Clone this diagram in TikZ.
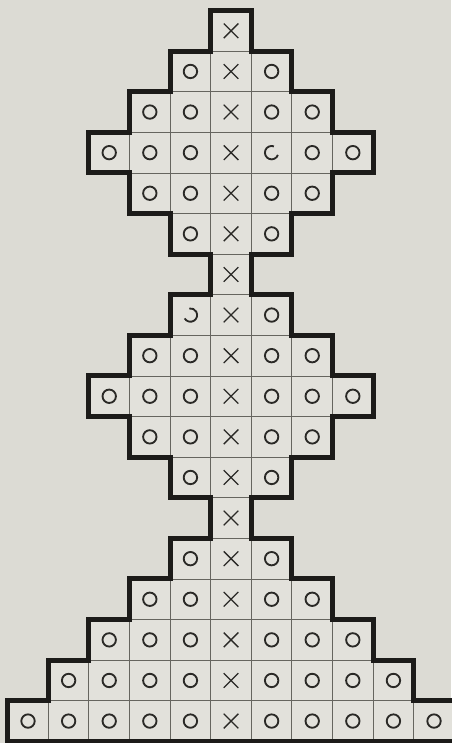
\documentclass[tikz,border=0pt]{standalone}
\usepackage{xcolor}
\usepackage{tikz}

\begin{document}
\begin{tikzpicture}[x=1cm,y=1cm]

% Colori
\definecolor{colFondo}{HTML}{DCDBD4}
\definecolor{colCella}{HTML}{E2E1DB}
\definecolor{colGriglia}{HTML}{66655F}
\definecolor{colSegno}{HTML}{2A2926}
\definecolor{colBordo}{HTML}{1C1B19}

% Raggio del cerchio e semilato della croce
\def\rc{0.165}
\def\sx{0.18}

% Fondo e margini
\useasboundingbox (-0.19,-0.04) rectangle (10.92,18.26);
\fill[colFondo] (-0.19,-0.04) rectangle (10.92,18.26);

% Celle: \k = mezza larghezza della riga, \j = riga dal basso
\foreach \k [count=\j from 0] in {5,4,3,2,1,0,1,2,3,2,1,0,1,2,3,2,1,0} {
  \foreach \i in {-\k,...,\k} {
    \draw[fill=colCella, draw=colGriglia, line width=0.6pt] (5+\i,\j) rectangle (6+\i,\j+1);
    \pgfmathtruncatemacro\id{100*\j+\i}
    \ifnum\i=0
      % croce nella colonna centrale
      \draw[colSegno, line width=0.9pt]
        (5.5-\sx,\j+0.5-\sx) -- (5.5+\sx,\j+0.5+\sx)
        (5.5-\sx,\j+0.5+\sx) -- (5.5+\sx,\j+0.5-\sx);
    \else\ifnum\id=1401
      % cerchio aperto (difetto di stampa)
      \draw[colSegno, line width=1.3pt] (5.5+\i,\j+0.5) ++(70:\rc) arc[start angle=70,end angle=340,radius=\rc];
    \else\ifnum\id=999
      \draw[colSegno, line width=1.3pt] (5.5+\i,\j+0.5) ++(-150:\rc) arc[start angle=-150,end angle=100,radius=\rc];
    \else
      \draw[colSegno, line width=1.3pt] (5.5+\i,\j+0.5) circle (\rc);
    \fi\fi\fi
  }
}

% Contorno spesso a gradini
\draw[colBordo, line width=3.5pt, line join=miter] (0,0)
  \foreach \k [count=\j from 0] in {5,4,3,2,1,0,1,2,3,2,1,0,1,2,3,2,1,0} { -- (5-\k,\j) -- (5-\k,\j+1) }
  \foreach \k [count=\j from 0] in {0,1,2,3,2,1,0,1,2,3,2,1,0,1,2,3,4,5} { -- (6+\k,18-\j) -- (6+\k,17-\j) }
  -- cycle;

\end{tikzpicture}
\end{document}
